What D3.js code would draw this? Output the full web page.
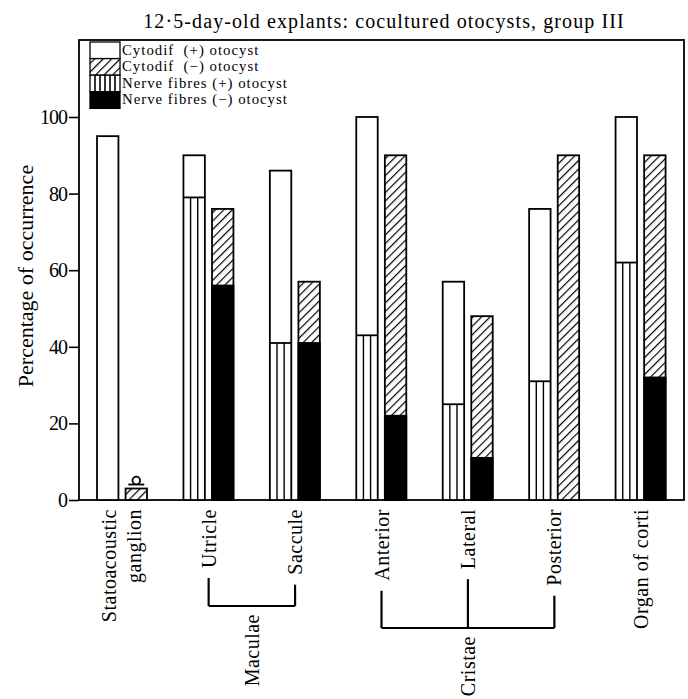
<!DOCTYPE html>
<html lang="en">
<head>
    <meta charset="UTF-8">
    <title>Cocultured otocysts, group III</title>
    <script src="https://d3js.org/d3.v7.min.js"></script>
    <style>
        body { margin: 0; background: #fff; }
        svg { font-family: "Liberation Serif", "Times New Roman", serif; }
    </style>
</head>
<body>
    <svg width="688" height="699"></svg>
    <script>
        // categories and values
        const groups = ['ganglion', 'utricle', 'saccule', 'anterior', 'lateral', 'posterior', 'corti'];
        const tickLabels = [['Statoacoustic', 'ganglion'], ['Utricle'], ['Saccule'], ['Anterior'], ['Lateral'], ['Posterior'], ['Organ of corti']];
        const cytoPlus   = [95, 90, 86, 100, 57, 76, 100];   // Cytodif (+) otocyst
        const nervePlus  = [0, 79, 41, 43, 25, 31, 62];      // Nerve fibres (+) otocyst
        const cytoMinus  = [3, 76, 57, 90, 48, 90, 90];      // Cytodif (-) otocyst
        const nerveMinus = [0, 56, 41, 22, 11, 0, 32];       // Nerve fibres (-) otocyst
        const yTicks = [0, 20, 40, 60, 80, 100];
        const legendLabels = ['Cytodif  (+) otocyst', 'Cytodif  (\u2212) otocyst', 'Nerve fibres (+) otocyst', 'Nerve fibres (\u2212) otocyst'];

        const svg = d3.select('svg');
        const mLeft = 79, mRight = 684, mTop = 40, mBottom = 500;

        const y = d3.scaleLinear().domain([0, 100]).range([mBottom, 117]);
        const x0 = d3.scaleBand().domain(groups).range([mLeft, mRight]);
        const x1 = d3.scaleBand().domain(['plus', 'minus']).range([18, 68]).paddingInner(0.25);
        const bw = x1.bandwidth();

        // patterns
        const defs = svg.append('defs');
        const hatch = defs.append('pattern')
            .attr('id', 'hatch').attr('patternUnits', 'userSpaceOnUse')
            .attr('width', 6).attr('height', 6)
            .attr('patternTransform', 'rotate(45)');
        hatch.append('rect').attr('width', 6).attr('height', 6).attr('fill', '#fff');
        hatch.append('line').attr('x1', 0).attr('y1', 0).attr('x2', 0).attr('y2', 6)
            .attr('stroke', '#000').attr('stroke-width', 2.4);

        // title
        svg.append('text')
            .attr('x', 384).attr('y', 28)
            .attr('text-anchor', 'middle')
            .attr('font-size', 20).attr('letter-spacing', 1.1)
            .text('12\u00b75-day-old explants: cocultured otocysts, group III');

        // frame
        svg.append('rect')
            .attr('x', mLeft).attr('y', mTop)
            .attr('width', mRight - mLeft).attr('height', mBottom - mTop)
            .attr('fill', 'none').attr('stroke', '#000').attr('stroke-width', 1.8);

        // y axis
        const yAxis = d3.axisLeft(y).tickValues(yTicks).tickSize(10).tickPadding(2);
        const gy = svg.append('g').attr('transform', `translate(${mLeft},0)`).call(yAxis);
        gy.select('.domain').remove();
        gy.selectAll('line').attr('stroke-width', 1.6);
        gy.selectAll('text').attr('font-size', 20).attr('font-family', 'Liberation Serif').attr('letter-spacing', -1);

        svg.append('text')
            .attr('transform', 'translate(33,276) rotate(-90)')
            .attr('text-anchor', 'middle')
            .attr('font-size', 22)
            .text('Percentage of occurrence');

        const bars = svg.append('g').attr('stroke', '#000').attr('stroke-width', 1.8);

        groups.forEach((g, i) => {
            const xp = x0(g) + x1('plus');
            const xm = x0(g) + x1('minus');

            // (+) otocyst: nerve fibres striped bottom, cytodif white top
            bars.append('rect')
                .attr('x', xp).attr('y', y(cytoPlus[i]))
                .attr('width', bw).attr('height', y(0) - y(cytoPlus[i]))
                .attr('fill', '#fff');
            if (nervePlus[i] > 0) {
                bars.append('line')
                    .attr('x1', xp).attr('x2', xp + bw)
                    .attr('y1', y(nervePlus[i])).attr('y2', y(nervePlus[i]));
                [1, 2].forEach(k => {
                    bars.append('line')
                        .attr('x1', xp + bw * k / 3).attr('x2', xp + bw * k / 3)
                        .attr('y1', y(nervePlus[i])).attr('y2', y(0))
                        .attr('stroke-width', 1.4);
                });
            }

            // (-) otocyst: nerve fibres black bottom, cytodif hatched top
            bars.append('rect')
                .attr('x', xm).attr('y', y(cytoMinus[i]))
                .attr('width', bw).attr('height', y(0) - y(cytoMinus[i]))
                .attr('fill', 'url(#hatch)');
            if (nerveMinus[i] > 0) {
                bars.append('rect')
                    .attr('x', xm).attr('y', y(nerveMinus[i]))
                    .attr('width', bw).attr('height', y(0) - y(nerveMinus[i]))
                    .attr('fill', '#000');
            }
        });

        // small symbol over the tiny ganglion bar
        const gx = x0('ganglion') + x1('minus') + bw / 2;
        bars.append('line')
            .attr('x1', gx - 8).attr('x2', gx + 8)
            .attr('y1', y(cytoMinus[0]) - 4).attr('y2', y(cytoMinus[0]) - 4);
        bars.append('circle')
            .attr('cx', gx).attr('cy', y(cytoMinus[0]) - 8).attr('r', 3.8)
            .attr('fill', '#fff');

        // x labels
        const labelBoxes = {};
        groups.forEach((g, i) => {
            const cx = x0(g) + x0.bandwidth() / 2;
            const lines = tickLabels[i];
            const t = svg.append('text')
                .attr('transform', `translate(${cx},509) rotate(-90)`)
                .attr('text-anchor', 'end')
                .attr('font-size', 20).attr('letter-spacing', 0.5);
            lines.forEach((s, k) => {
                t.append('tspan')
                    .attr('x', 0)
                    .attr('dy', k === 0 ? (lines.length > 1 ? '-0.3em' : '0.35em') : '1.25em')
                    .text(s);
            });
            const b = t.node().getBBox();
            labelBoxes[g] = 509 + b.width;
        });

        // brackets
        const cx = g => x0(g) + x0.bandwidth() / 2;
        const br = svg.append('g').attr('stroke', '#000').attr('stroke-width', 2.2).attr('fill', 'none');
        const bracket = (members, yb, name) => {
            members.forEach(g => {
                br.append('line').attr('x1', cx(g)).attr('x2', cx(g))
                    .attr('y1', labelBoxes[g] + 10).attr('y2', yb);
            });
            const a = cx(members[0]), b = cx(members[members.length - 1]);
            br.append('line').attr('x1', a).attr('x2', b).attr('y1', yb).attr('y2', yb);
            svg.append('text')
                .attr('transform', `translate(${(a + b) / 2},${yb + 8}) rotate(-90)`)
                .attr('text-anchor', 'end').attr('dy', '0.35em')
                .attr('font-size', 20).attr('letter-spacing', 0.5)
                .text(name);
        };
        bracket(['utricle', 'saccule'], 606, 'Maculae');
        bracket(['anterior', 'lateral', 'posterior'], 628, 'Cristae');

        // legend
        const legend = svg.append('g');
        const rowH = 16.6;
        legendLabels.forEach((lab, i) => {
            const ry = 42 + i * rowH;
            const fill = ['#fff', 'url(#hatch)', '#fff', '#000'][i];
            legend.append('rect')
                .attr('x', 90).attr('y', ry).attr('width', 30).attr('height', rowH)
                .attr('fill', fill).attr('stroke', '#000').attr('stroke-width', 1.3);
            if (i === 2) {
                d3.range(1, 6).forEach(k => {
                    legend.append('line')
                        .attr('x1', 90 + k * 5).attr('x2', 90 + k * 5)
                        .attr('y1', ry).attr('y2', ry + rowH)
                        .attr('stroke', '#000').attr('stroke-width', 1.6);
                });
            }
            legend.append('text')
                .attr('x', 122).attr('y', ry + rowH - 4)
                .attr('font-size', 14.8).attr('letter-spacing', 1)
                .style('white-space', 'pre')
                .text(lab);
        });
    </script>
</body>
</html>
